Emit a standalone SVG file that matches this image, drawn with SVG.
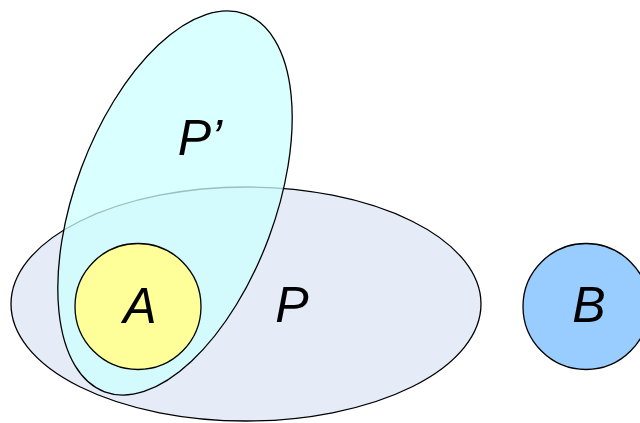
<svg xmlns="http://www.w3.org/2000/svg" width="640" height="423" viewBox="0 0 640 423">
<style>
.lbl{font-family:"Liberation Sans",Arial,sans-serif;font-style:italic;font-size:50px;fill:#000;text-anchor:middle}
.sh{stroke:#000;stroke-width:1.3}
</style>
<rect width="640" height="423" fill="#fff"/>
<g id="P">
<ellipse class="sh" cx="246" cy="304" rx="235" ry="117" fill="#E6ECF7"/>
<text class="lbl" x="292" y="322">P</text>
</g>
<g id="Pprime">
<ellipse cx="175" cy="203" rx="100" ry="201.5" transform="rotate(20.45 175 203)" fill="#CCFFFF" fill-opacity="0.75"/>
<ellipse cx="175" cy="203" rx="100" ry="201.5" transform="rotate(20.45 175 203)" fill="none" class="sh"/>
<text class="lbl" x="200" y="155">P’</text>
</g>
<g id="A">
<circle class="sh" cx="138" cy="306.5" r="63" fill="#FFFF99"/>
<text class="lbl" x="140" y="323">A</text>
</g>
<g id="B">
<circle class="sh" cx="586" cy="306.5" r="63" fill="#99CCFF"/>
<text class="lbl" x="589" y="322">B</text>
</g>
<g id="connectors"/>
</svg>
